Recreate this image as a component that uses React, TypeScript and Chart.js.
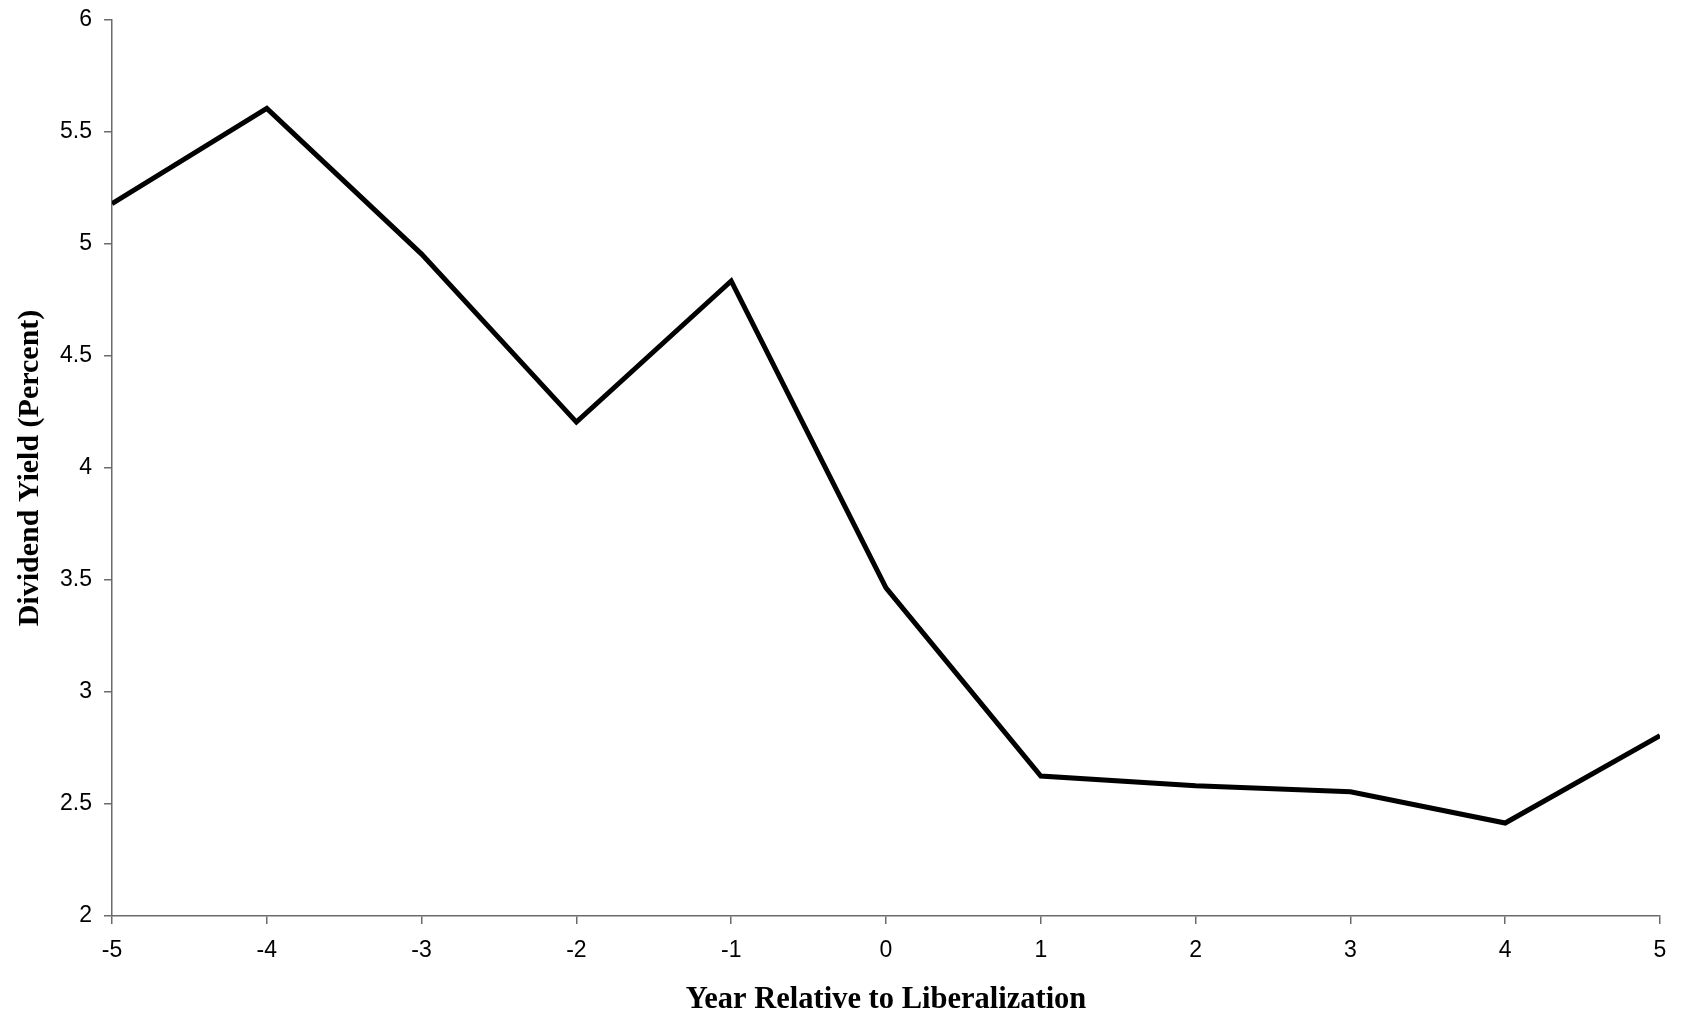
import React, { useEffect, useRef } from "react";
import { Chart, registerables } from "chart.js";

Chart.register(...registerables);

const years: number[] = [-5, -4, -3, -2, -1, 0, 1, 2, 3, 4, 5];
const dividendYield: number[] = [5.18, 5.605, 4.955, 4.205, 4.835, 3.465, 2.625, 2.582, 2.555, 2.415, 2.805];
const xTitle = "Year Relative to Liberalization";
const yTitle = "Dividend Yield (Percent)";

const W = 1690;
const H = 1021;

export default function App() {
  const ref = useRef<HTMLCanvasElement | null>(null);

  useEffect(() => {
    document.body.style.margin = "0";
    const canvas = ref.current;
    if (!canvas) return;
    const axisColor = "#6b6b6b";
    const chart = new Chart(canvas, {
      type: "line",
      data: {
        datasets: [
          {
            data: years.map((x, i) => ({ x, y: dividendYield[i] })),
            borderColor: "#000000",
            borderWidth: 5,
            pointRadius: 0,
            tension: 0,
            fill: false,
          },
        ],
      },
      options: {
        animation: false,
        responsive: false,
        devicePixelRatio: 1,
        layout: { padding: { left: 0, top: 20, right: 30, bottom: 0 } },
        plugins: { legend: { display: false }, tooltip: { enabled: false } },
        scales: {
          x: {
            type: "linear",
            min: -5,
            max: 5,
            border: { display: true, color: axisColor, width: 1.5 },
            grid: { drawOnChartArea: false, drawTicks: true, tickLength: 8, color: axisColor, lineWidth: 1.5 },
            ticks: {
              stepSize: 1,
              color: "#000",
              padding: 13,
              maxRotation: 0,
              font: { family: "Liberation Sans, Arial", size: 23 },
              callback: (v: any) => String(Number(v)),
            },
            title: {
              display: true,
              text: xTitle,
              color: "#000",
              font: { family: "Liberation Serif, Times New Roman", size: 30.5, weight: "bold" },
              padding: { top: 11, bottom: 3 },
            },
            afterFit: (s: any) => {
              s.height = 105;
              s.paddingLeft = 0;
              s.paddingRight = 0;
            },
          },
          y: {
            type: "linear",
            min: 2,
            max: 6,
            border: { display: true, color: axisColor, width: 1.5 },
            grid: { drawOnChartArea: false, drawTicks: true, tickLength: 8, color: axisColor, lineWidth: 1.5 },
            ticks: {
              stepSize: 0.5,
              color: "#000",
              padding: 12,
              font: { family: "Liberation Sans, Arial", size: 23 },
              callback: (v: any) => String(Number(v)),
            },
            title: {
              display: true,
              text: yTitle,
              color: "#000",
              font: { family: "Liberation Serif, Times New Roman", size: 30, weight: "bold" },
              padding: { top: 12, bottom: 0 },
            },
            afterFit: (s: any) => {
              s.width = 112;
              s.paddingTop = 0;
              s.paddingBottom = 0;
            },
          },
        },
      },
    });
    return () => chart.destroy();
  }, []);

  return (
    <div style={{ position: "absolute", left: 0, top: 0, width: W, height: H, background: "#fff" }}>
      <canvas ref={ref} width={W} height={H} style={{ width: W, height: H, display: "block" }} />
    </div>
  );
}
